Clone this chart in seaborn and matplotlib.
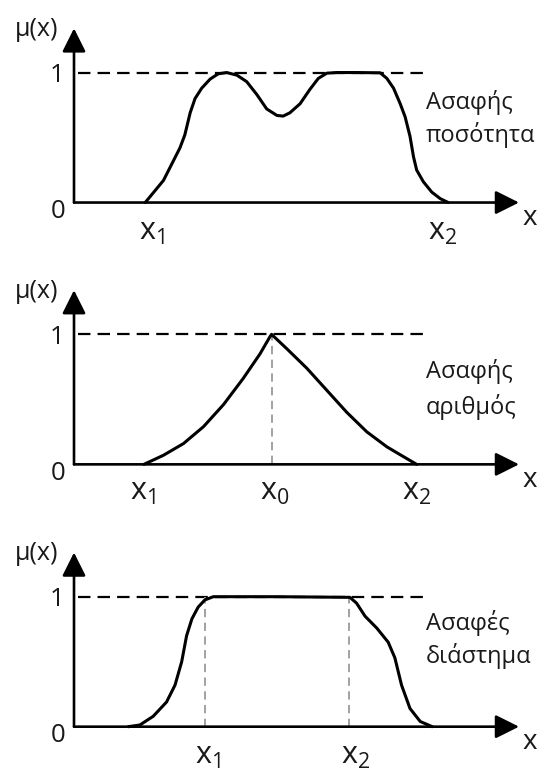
import numpy as np
import pandas as pd
import seaborn as sns
import matplotlib.pyplot as plt

sns.set_style('white')
plt.rcParams['font.family'] = ['Open Sans', 'DejaVu Sans']

# membership curves (x in axis units, mu between 0 and 1)
quantity_x = [1.60, 2.01, 2.38, 2.49, 2.61, 2.72, 2.87, 3.06, 3.24, 3.43, 3.66, 3.88,
              4.11, 4.33, 4.56, 4.70, 4.85, 5.08, 5.30, 5.49, 5.68, 5.90, 6.35, 6.88,
              7.03, 7.18, 7.33, 7.44, 7.55, 7.63, 7.70, 7.85, 8.04, 8.23, 8.41]
quantity_mu = [0.0, 0.17, 0.42, 0.52, 0.69, 0.80, 0.88, 0.95, 0.99, 1.0, 0.98, 0.93,
               0.83, 0.72, 0.67, 0.665, 0.69, 0.76, 0.87, 0.955, 0.995, 1.0, 1.0, 0.998,
               0.955, 0.88, 0.76, 0.66, 0.51, 0.35, 0.25, 0.16, 0.08, 0.03, 0.0]

number_x = [1.57, 2.01, 2.46, 2.91, 3.36, 3.80, 4.18, 4.40, 4.44,
            4.78, 5.23, 5.68, 6.13, 6.58, 7.03, 7.40, 7.70]
number_mu = [0.0, 0.07, 0.16, 0.29, 0.46, 0.66, 0.85, 0.98, 1.0,
             0.89, 0.74, 0.57, 0.40, 0.25, 0.135, 0.06, 0.0]

interval_x = [1.22, 1.48, 1.78, 2.08, 2.27, 2.42, 2.53, 2.65, 2.79, 2.94, 3.13,
              4.56, 6.20, 6.35, 6.54, 6.80, 7.06, 7.21, 7.36, 7.55, 7.78, 8.05]
interval_mu = [0.0, 0.013, 0.08, 0.19, 0.32, 0.50, 0.70, 0.83, 0.92, 0.975, 1.0,
               1.0, 0.995, 0.95, 0.85, 0.76, 0.65, 0.53, 0.32, 0.14, 0.04, 0.0]

number_peak = [4.44]
interval_core = [2.94, 6.17]

names = [['Ασαφής', 'ποσότητα'], ['Ασαφής', 'αριθμός'], ['Ασαφές', 'διάστημα']]
x1 = r'x$_\mathregular{1}$'
x2 = r'x$_\mathregular{2}$'
x0 = r'x$_\mathregular{0}$'
tick_names = [[x1, x2], [x1, x0, x2], [x1, x2]]
tick_pos = [[1.75, 8.29], [1.54, 4.52, 7.69], [3.01, 6.33]]

curves = [(quantity_x, quantity_mu), (number_x, number_mu), (interval_x, interval_mu)]
guides = [[], number_peak, interval_core]

# layout of the three panels (figure fractions) and their y ranges
rects = [[0, 514 / 774, 1, 260 / 774], [0, 254 / 774, 1, 260 / 774], [0, 0, 1, 254 / 774]]
ylims = [(-0.442, 1.558), (-0.428, 1.572), (-0.364, 1.59)]
name_y = [(0.717, 0.463), (0.665, 0.39), (0.744, 0.492)]
tick_y = [-0.285, -0.275, -0.285]

fig = plt.figure(figsize=(5.39, 7.74), dpi=100)

for i in range(3):
    ax = fig.add_axes(rects[i])
    ax.set_xlim(-1.663, 10.449)
    ax.set_ylim(*ylims[i])
    ax.axis('off')

    # axes with arrow heads
    arrow = dict(arrowstyle='-|>,head_length=0.72,head_width=0.36', color='black',
                 lw=1.9, shrinkA=0, shrinkB=0, mutation_scale=20)
    ax.annotate('', xy=(10, 0), xytext=(0, 0), arrowprops=arrow)
    ax.annotate('', xy=(0, 1.34), xytext=(0, 0), arrowprops=arrow)

    # level mu = 1
    ax.plot([0.1, 7.9], [1, 1], color='black', lw=1.6, dashes=(5.6, 3.2))

    for g in guides[i]:
        ax.plot([g, g], [0, 1], color='#9a9a9a', lw=1.3, dashes=(4.6, 3.0))

    cx, cy = curves[i]
    sns.lineplot(x=cx, y=cy, ax=ax, color='black', lw=2.2, estimator=None,
                 sort=False, solid_joinstyle='round')

    ax.text(-0.83, 1.33, 'μ(x)', fontsize=18, ha='center', va='center', color='#1a1a1a')
    ax.text(-0.38, 0.975, '1', fontsize=18.5, ha='center', va='center', color='#1a1a1a')
    ax.text(-0.36, -0.07, '0', fontsize=18.5, ha='center', va='center', color='#1a1a1a')
    ax.text(10.25, -0.12, 'x', fontsize=20, ha='center', va='center', color='#1a1a1a')

    for t, p in zip(tick_names[i], tick_pos[i]):
        ax.text(p, tick_y[i], t, fontsize=22, ha='center', va='baseline', color='#1a1a1a')

    ax.text(7.90, name_y[i][0], names[i][0], fontsize=17, ha='left', va='baseline',
            color='#1a1a1a')
    ax.text(7.90, name_y[i][1], names[i][1], fontsize=17, ha='left', va='baseline',
            color='#1a1a1a')

fig.savefig('out.png', dpi=100, facecolor='white')
